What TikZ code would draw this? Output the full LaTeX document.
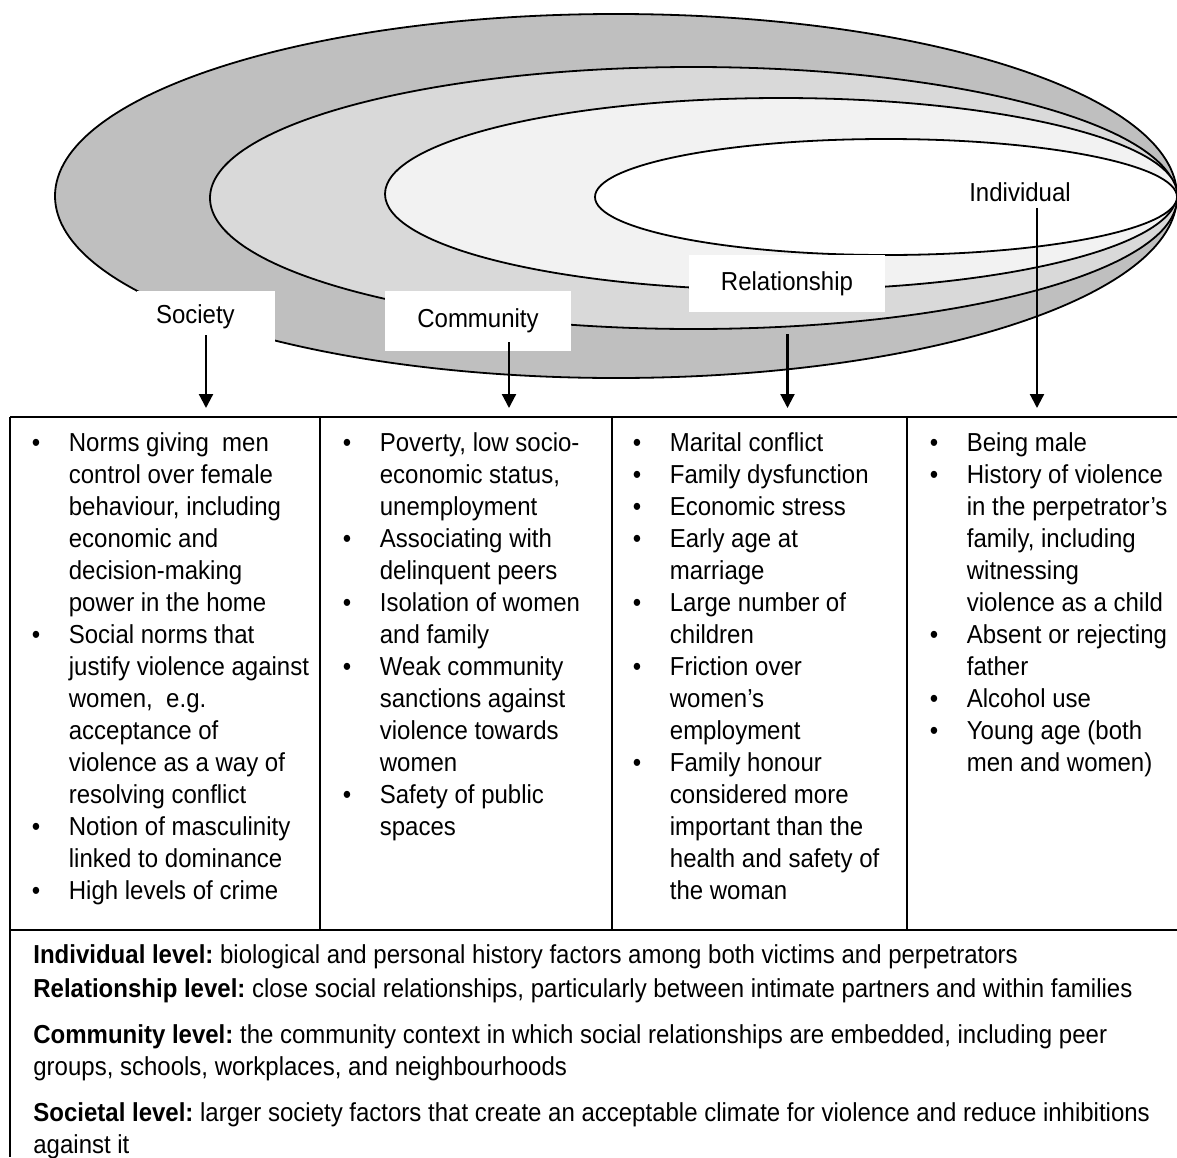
\documentclass[tikz,border=0pt]{standalone}
\usepackage{fontspec}
\setmainfont[FakeStretch=0.923]{Liberation Sans}
\usetikzlibrary{arrows.meta}
\definecolor{Band}{HTML}{BFBFBF}
\definecolor{Ring}{HTML}{D9D9D9}
\definecolor{Core}{HTML}{F2F2F2}
\newcommand{\bullets}[1]{\begin{tabular}[t]{@{}p{18.5pt}@{}l@{}}#1\end{tabular}}
\newcommand{\lines}[1]{\begin{tabular}[t]{@{}l@{}}#1\end{tabular}}
\frenchspacing

\begin{document}
\begin{tikzpicture}[
    x=0.5pt,y=-0.5pt,
    every node/.style={font=\fontsize{13}{16}\selectfont,inner sep=0pt},
    ring/.style={draw=black,line width=0.9pt},
    tag/.style={fill=white,align=center},
    arr/.style={-{Triangle[length=7pt,width=7pt]},line width=1.1pt},
    rule/.style={line width=0.8pt}
  ]
    \useasboundingbox (0,0) rectangle (1177,1157);
    % nested levels
    \filldraw[ring,fill=Band] (616,196) ellipse [x radius=561,y radius=182];
    \filldraw[ring,fill=Ring] (693.5,198) ellipse [x radius=483.5,y radius=131];
    \filldraw[ring,fill=Core] (781,194) ellipse [x radius=396,y radius=96];
    \filldraw[ring,fill=white] (886,197) ellipse [x radius=291,y radius=58];
    % level names
    \node[tag,text width=50pt,inner xsep=9.5pt,align=left,minimum height=25.5pt] (soc) at (206,316.5) {Society};
    \node[tag,minimum width=93pt,minimum height=30pt] (com) at (478,321) {Community};
    \node[tag,minimum width=98pt,minimum height=28.5pt] (rel) at (787,283.5) {Relationship};
    \node (ind) at (1020,192) {Individual};
    % table
    \coordinate (tip) at (0,408);
    \draw[rule] (10,417) -- (1177,417);
    \draw[rule] (10,417) -- (10,1157);
    \draw[rule] (10,930) -- (1177,930);
    \foreach \x in {320,612,907} \draw[rule] (\x,417) -- (\x,930);
    % arrows
    \coordinate (socA) at ([yshift=3.5pt]soc.south);
    \coordinate (comA) at ([xshift=15.5pt,yshift=4.5pt]com.south);
    \coordinate (relA) at ([xshift=0.25pt,yshift=-11pt]rel.south);
    \coordinate (indA) at ([xshift=8.5pt,yshift=-3pt]ind.south);
    \draw[arr] (socA) -- (socA |- tip);
    \draw[arr] (comA) -- (comA |- tip);
    \draw[arr] (relA) -- (relA |- tip);
    \draw[arr] (indA) -- (indA |- tip);
    % risk factors
    \node[anchor=base west] (socF) at (31.5,451) {\bullets{
      \textbullet & Norms giving~ men\\
      & control over female\\
      & behaviour, including\\
      & economic and\\
      & decision-making\\
      & power in the home\\
      \textbullet & Social norms that\\
      & justify violence against\\
      & women,~ e.g.\\
      & acceptance of\\
      & violence as a way of\\
      & resolving conflict\\
      \textbullet & Notion of masculinity\\
      & linked to dominance\\
      \textbullet & High levels of crime}};
    \node[anchor=base west] (comF) at (342.5,451) {\bullets{
      \textbullet & Poverty, low socio-\\
      & economic status,\\
      & unemployment\\
      \textbullet & Associating with\\
      & delinquent peers\\
      \textbullet & Isolation of women\\
      & and family\\
      \textbullet & Weak community\\
      & sanctions against\\
      & violence towards\\
      & women\\
      \textbullet & Safety of public\\
      & spaces}};
    \node[anchor=base west] (relF) at (632.5,451) {\bullets{
      \textbullet & Marital conflict\\
      \textbullet & Family dysfunction\\
      \textbullet & Economic stress\\
      \textbullet & Early age at\\
      & marriage\\
      \textbullet & Large number of\\
      & children\\
      \textbullet & Friction over\\
      & women’s\\
      & employment\\
      \textbullet & Family honour\\
      & considered more\\
      & important than the\\
      & health and safety of\\
      & the woman}};
    \node[anchor=base west] (indF) at (929.5,451) {\bullets{
      \textbullet & Being male\\
      \textbullet & History of violence\\
      & in the perpetrator’s\\
      & family, including\\
      & witnessing\\
      & violence as a child\\
      \textbullet & Absent or rejecting\\
      & father\\
      \textbullet & Alcohol use\\
      \textbullet & Young age (both\\
      & men and women)}};
    % definitions
    \node[anchor=base west] (indD) at (33,963) {\lines{\textbf{Individual level:} biological and personal history factors among both victims and perpetrators}};
    \node[anchor=base west] (relD) at (33,997) {\lines{\textbf{Relationship level:} close social relationships, particularly between intimate partners and within families}};
    \node[anchor=base west] (comD) at (33,1043) {\lines{\textbf{Community level:} the community context in which social relationships are embedded, including peer\\
      groups, schools, workplaces, and neighbourhoods}};
    \node[anchor=base west] (socD) at (33,1121) {\lines{\textbf{Societal level:} larger society factors that create an acceptable climate for violence and reduce inhibitions\\
      against it}};
  \end{tikzpicture}
\end{document}
